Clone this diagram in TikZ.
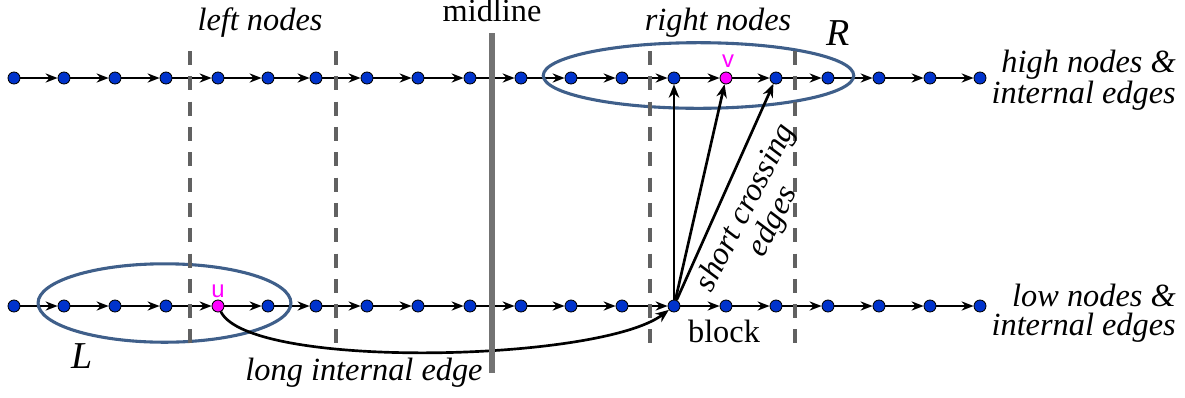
\documentclass[tikz,border=0pt]{standalone}
\usepackage{fontspec}
\setmainfont{Liberation Serif}
\newfontfamily\tagsans{Liberation Sans}
\usepackage{xcolor}
\usetikzlibrary{arrows.meta}

\definecolor{vertblue}{RGB}{0,51,204}
\definecolor{vertpink}{RGB}{255,0,255}
\definecolor{ringblue}{RGB}{63,95,138}

\pgfdeclarelayer{background}
\pgfsetlayers{background,main}

\begin{document}
\begin{tikzpicture}[x=0.025cm, y=-0.025cm,
          every node/.style={font=\fontsize{23}{20.5}\selectfont},
          lbl/.style={font=\fontsize{23}{20.5}\selectfont\itshape, inner sep=0pt},
          plain/.style={inner sep=0pt},
          vert/.style={draw=black, line width=0.6pt, circle, fill=vertblue, inner sep=0pt, minimum size=0.3cm},
          tag/.style={font=\tagsans\fontsize{17}{17}\selectfont, text=vertpink, inner sep=0pt},
          edge/.style={line width=1.5pt, -{Stealth[length=8.5pt, width=6.5pt]}},
          jump/.style={line width=1.9pt, -{Stealth[length=9.5pt, width=7.5pt]}},
          ring/.style={draw=ringblue, line width=2.2pt},
          divider/.style={draw=black!62, line width=2.2pt, dash pattern=on 10pt off 8pt},
          centreline/.style={draw=black!55, line width=3.8pt}
      ]
        \useasboundingbox (0,0) rectangle (1185,397);

        % the two rows of nodes
        \foreach \x [count=\i] in {14,64,115,166,218,268,316,367,418,470,521,571,622,674,726,776,828,879,930,980}{
          \ifnum\i=15 \def\hc{vertpink}\else\def\hc{vertblue}\fi
          \ifnum\i=5 \def\lc{vertpink}\else\def\lc{vertblue}\fi
          \node[vert, fill=\hc] (h\i) at (\x,78) {};
          \node[vert, fill=\lc] (l\i) at (\x,306) {};
        }

        \begin{pgfonlayer}{background}
          % internal edges
          \foreach \i [evaluate=\i as \j using int(\i+1)] in {1,...,19}{
            \draw[edge] (h\i) -- (h\j);
            \draw[edge] (l\i) -- (l\j);
          }

          \draw[ring] (698.5,75.5) ellipse [x radius=3.88cm, y radius=0.82cm];
          \draw[ring] (164.5,303) ellipse [x radius=3.16cm, y radius=0.98cm];

          % crossing edges and the long one
          \draw[jump] (l14) -- (h14);
          \draw[jump] (l14) -- (h15);
          \draw[jump] (l14) -- (h16);
          \draw[jump] (l5) .. controls (250,370) and (600,362) .. (l14);

          \draw[divider] (190,51) -- (190,343);
          \draw[divider] (336,51) -- (336,343);
          \draw[divider] (650,51) -- (650,343);
          \draw[divider] (795,51) -- (795,343);
          \draw[centreline] (492,33) -- (492,373);
        \end{pgfonlayer}

        \node[tag, anchor=base] (vlbl) at (728,67) {v};
        \node[tag, anchor=base] (ulbl) at (218,297) {u};

        \node[lbl, anchor=base] (leftlbl) at (260,30) {left nodes};
        \node[lbl, anchor=base] (rightlbl) at (718,30) {right nodes};
        \node[plain, anchor=base] (midlbl) at (492,21) {midline};
        \node[lbl, anchor=base, font=\fontsize{27}{27}\selectfont\itshape] (rlbl) at (838,45) {R};
        \node[lbl, anchor=base, font=\fontsize{27}{27}\selectfont\itshape] (llbl) at (82,368) {L};
        \node[plain, anchor=base] (blocklbl) at (724,342) {block};
        \node[lbl, anchor=base] (longlbl) at (364,380) {long internal edge};
        \node[lbl, align=center, rotate=63] (crosslbl) at (760,215) {short crossing\\edges};
        \node[lbl, align=right, anchor=east] (highlbl) at (1176,80) {high nodes \&\\internal edges};
        \node[lbl, align=right, anchor=east] (lowlbl) at (1176,313.5) {low nodes \&\\internal edges};
      \end{tikzpicture}
\end{document}
